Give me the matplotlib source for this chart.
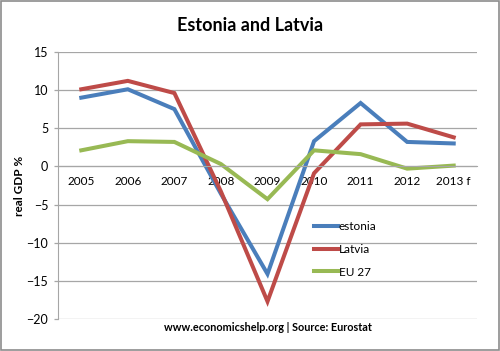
import matplotlib
matplotlib.use("Agg")
import matplotlib.pyplot as plt
from matplotlib.patches import Rectangle

plt.rcParams.update({
    "font.family": ["Lato", "DejaVu Sans"],
    "font.size": 8.5,
})

# ----------------------------------------------------------------------
# Data (real GDP growth, %)
# ----------------------------------------------------------------------
years = ["2005", "2006", "2007", "2008", "2009", "2010", "2011", "2012", "2013 f"]
estonia = [9.0, 10.1, 7.5, -3.6, -14.1, 3.3, 8.3, 3.2, 3.0]
latvia = [10.1, 11.2, 9.6, -3.3, -17.7, -0.9, 5.5, 5.6, 3.8]
eu27 = [2.1, 3.3, 3.2, 0.3, -4.3, 2.1, 1.6, -0.3, 0.1]

series = [("estonia", estonia, "#4A7EBB"),
          ("Latvia", latvia, "#BE4B48"),
          ("EU 27", eu27, "#98B954")]

fig = plt.figure(figsize=(5.0, 3.51), dpi=100)
ax = fig.add_axes([0.116, 0.0912, 0.838, 0.761])

xs = range(len(years))
for label, vals, col in series:
    ax.plot(xs, vals, color=col, lw=2.9, label=label, solid_joinstyle="miter")

grid = "#A6A6A6"
ax.set_xlim(-0.5, len(years) - 0.5)
ax.set_ylim(-20, 15)
ax.set_yticks(range(-20, 16, 5))
ax.yaxis.grid(True, color=grid, lw=0.9)
ax.set_axisbelow(True)

ax.set_xticks(list(xs))
ax.set_xticklabels(years)
ax.spines["bottom"].set_position(("data", 0))
ax.spines["bottom"].set_color(grid)
ax.spines["left"].set_color(grid)
ax.spines["top"].set_visible(False)
ax.spines["right"].set_visible(False)
ax.tick_params(axis="x", length=0, pad=7, colors="black")
ax.tick_params(axis="y", length=3, width=0.9, color=grid, pad=4,
               labelsize=9)

ax.set_ylabel("real GDP %", fontweight="bold", labelpad=1)

fig.text(0.5, 0.928, "Estonia and Latvia", ha="center", va="center",
         fontsize=13, fontweight="bold")
fig.text(0.536, 0.066, "www.economicshelp.org | Source: Eurostat",
         ha="center", va="center", fontsize=7.8, fontweight="bold")

ax.legend(loc="center left", bbox_to_anchor=(0.628, 0.29),
          bbox_transform=fig.transFigure, frameon=False,
          borderpad=0, borderaxespad=0, handlelength=2.0,
          handletextpad=0.1, labelspacing=1.0)

# outer border of the chart area
fig.patches.append(Rectangle((0.002, 0.003), 0.996, 0.994,
                             transform=fig.transFigure, fill=False,
                             edgecolor="#8C8C8C", lw=1.2))

fig.savefig("out.png", dpi=100)
